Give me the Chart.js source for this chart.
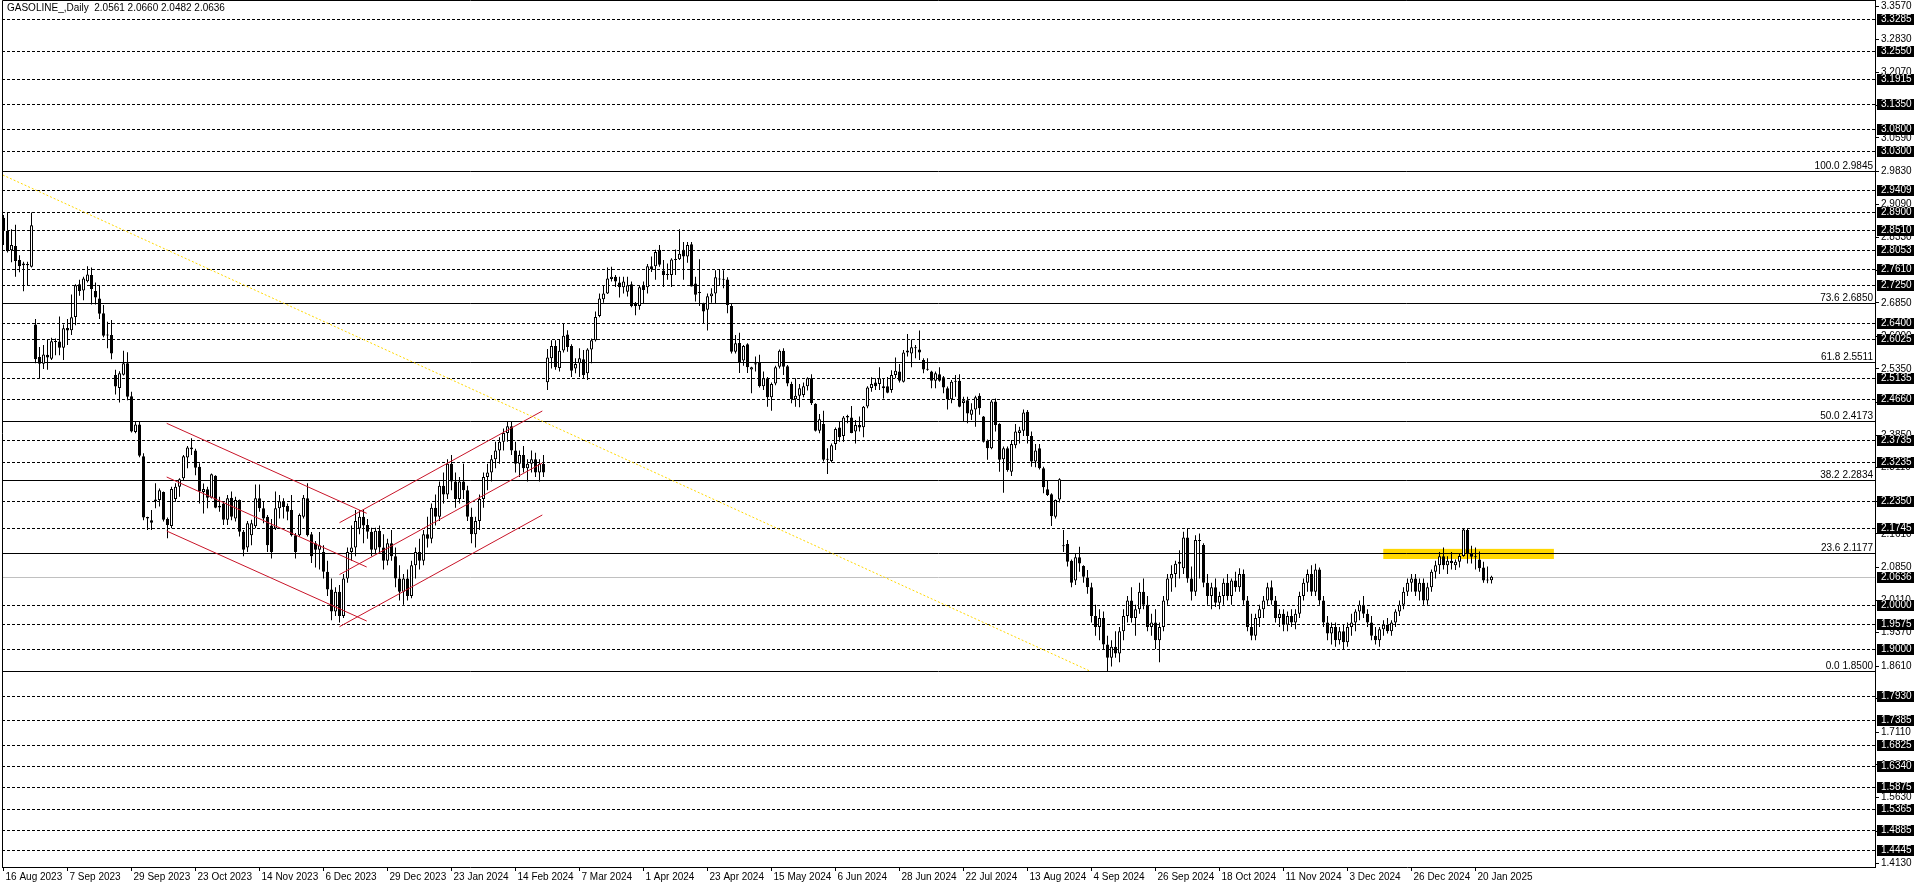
<!DOCTYPE html>
<html>
<head>
<meta charset="utf-8">
<script src="https://cdn.jsdelivr.net/npm/chart.js@4.4.1/dist/chart.umd.min.js"></script>
<style>
  html, body { margin: 0; padding: 0; background: #fff; overflow: hidden; }
</style>
</head>
<body>
<canvas id="chart" width="1916" height="888"></canvas>
<script>
const title = 'GASOLINE_,Daily  2.0561 2.0660 2.0482 2.0636';

const dateLabels = ['16 Aug 2023', '7 Sep 2023', '29 Sep 2023', '23 Oct 2023', '14 Nov 2023', '6 Dec 2023',
  '29 Dec 2023', '23 Jan 2024', '14 Feb 2024', '7 Mar 2024', '1 Apr 2024', '23 Apr 2024', '15 May 2024',
  '6 Jun 2024', '28 Jun 2024', '22 Jul 2024', '13 Aug 2024', '4 Sep 2024', '26 Sep 2024', '18 Oct 2024',
  '11 Nov 2024', '3 Dec 2024', '26 Dec 2024', '20 Jan 2025'];
const dateTickBars = [0, 16, 32, 48, 64, 80, 96, 112, 128, 144, 160, 176, 192, 208, 224, 240, 256, 272,
  288, 304, 320, 336, 352, 368];

// daily bars, oldest first
const open = [
  2.878, 2.848, 2.804, 2.814, 2.782, 2.770, 2.773, 2.767, 2.636, 2.562,
  2.547, 2.567, 2.558, 2.596, 2.597, 2.583, 2.628, 2.623, 2.653, 2.727,
  2.713, 2.734, 2.748, 2.712, 2.695, 2.661, 2.611, 2.612, 2.521, 2.492,
  2.522, 2.548, 2.473, 2.392, 2.409, 2.337, 2.199, 2.192, 2.239, 2.238,
  2.256, 2.195, 2.179, 2.240, 2.268, 2.287, 2.334, 2.353, 2.350, 2.313,
  2.256, 2.262, 2.243, 2.293, 2.225, 2.230, 2.193, 2.243, 2.196, 2.238,
  2.166, 2.130, 2.158, 2.178, 2.242, 2.219, 2.200, 2.180, 2.173, 2.219,
  2.235, 2.224, 2.215, 2.158, 2.158, 2.200, 2.242, 2.160, 2.140, 2.125,
  2.120, 2.075, 2.035, 1.985, 2.030, 1.975, 2.060, 2.120, 2.130, 2.173,
  2.200, 2.181, 2.166, 2.125, 2.168, 2.130, 2.100, 2.140, 2.110, 2.060,
  2.030, 2.060, 2.020, 2.090, 2.120, 2.100, 2.160, 2.150, 2.220, 2.200,
  2.270, 2.250, 2.320, 2.280, 2.240, 2.280, 2.260, 2.200, 2.160, 2.190,
  2.240, 2.290, 2.300, 2.330, 2.350, 2.370, 2.390, 2.405, 2.350, 2.320,
  2.340, 2.310, 2.320, 2.330, 2.300, 2.320, 2.505, 2.559, 2.587, 2.537,
  2.577, 2.613, 2.587, 2.536, 2.548, 2.557, 2.525, 2.579, 2.600, 2.655,
  2.693, 2.706, 2.739, 2.744, 2.731, 2.720, 2.710, 2.727, 2.684, 2.678,
  2.723, 2.720, 2.768, 2.768, 2.805, 2.758, 2.750, 2.748, 2.782, 2.784,
  2.805, 2.790, 2.818, 2.729, 2.707, 2.682, 2.669, 2.700, 2.706, 2.738,
  2.738, 2.738, 2.678, 2.574, 2.594, 2.554, 2.591, 2.534, 2.545, 2.549,
  2.496, 2.514, 2.471, 2.502, 2.540, 2.576, 2.541, 2.501, 2.466, 2.474,
  2.476, 2.496, 2.514, 2.456, 2.395, 2.410, 2.329, 2.326, 2.365, 2.402,
  2.383, 2.425, 2.425, 2.393, 2.408, 2.403, 2.450, 2.492, 2.504, 2.501,
  2.491, 2.496, 2.487, 2.521, 2.529, 2.506, 2.572, 2.570, 2.582, 2.579,
  2.555, 2.534, 2.529, 2.508, 2.523, 2.516, 2.491, 2.466, 2.508, 2.508,
  2.458, 2.464, 2.431, 2.443, 2.474, 2.427, 2.372, 2.355, 2.461, 2.410,
  2.330, 2.355, 2.302, 2.362, 2.390, 2.395, 2.438, 2.383, 2.325, 2.355,
  2.310, 2.262, 2.251, 2.200, 2.239, 2.133, 2.138, 2.100, 2.055, 2.108,
  2.088, 2.062, 2.040, 1.975, 1.950, 1.970, 1.910, 1.880, 1.905, 1.890,
  1.940, 1.975, 2.010, 1.970, 1.990, 2.030, 2.000, 1.950, 1.960, 1.920,
  1.950, 2.010, 2.060, 2.070, 2.098, 2.083, 2.153, 2.060, 2.030, 2.147,
  2.136, 2.050, 2.020, 2.040, 2.005, 2.020, 2.050, 2.020, 2.055, 2.040,
  2.070, 2.010, 1.950, 1.930, 1.970, 1.990, 2.010, 2.040, 2.010, 1.970,
  1.980, 1.955, 1.975, 1.960, 1.980, 2.020, 2.050, 2.070, 2.030, 2.080,
  2.010, 1.960, 1.935, 1.950, 1.920, 1.940, 1.915, 1.950, 1.960, 1.985,
  2.000, 1.980, 1.960, 1.930, 1.920, 1.945, 1.955, 1.940, 1.960, 1.985,
  2.000, 2.030, 2.050, 2.060, 2.030, 2.050, 2.010, 2.040, 2.075, 2.090,
  2.110, 2.090, 2.100, 2.090, 2.098, 2.111, 2.170, 2.117, 2.108, 2.103,
  2.085, 2.055, 2.0561
];
const high = [
  2.884, 2.890, 2.852, 2.862, 2.793, 2.778, 2.778, 2.890, 2.648, 2.585,
  2.589, 2.601, 2.606, 2.604, 2.654, 2.636, 2.648, 2.704, 2.727, 2.737,
  2.744, 2.768, 2.765, 2.731, 2.725, 2.680, 2.642, 2.646, 2.533, 2.530,
  2.576, 2.573, 2.483, 2.415, 2.415, 2.344, 2.200, 2.215, 2.276, 2.264,
  2.257, 2.198, 2.268, 2.276, 2.287, 2.340, 2.360, 2.378, 2.354, 2.321,
  2.275, 2.268, 2.298, 2.294, 2.245, 2.234, 2.249, 2.257, 2.245, 2.239,
  2.170, 2.190, 2.193, 2.273, 2.273, 2.234, 2.204, 2.195, 2.257, 2.249,
  2.242, 2.230, 2.249, 2.163, 2.207, 2.249, 2.276, 2.165, 2.145, 2.165,
  2.135, 2.100, 2.060, 2.040, 2.045, 2.070, 2.130, 2.180, 2.215, 2.215,
  2.215, 2.195, 2.175, 2.175, 2.180, 2.160, 2.150, 2.170, 2.130, 2.090,
  2.070, 2.080, 2.100, 2.130, 2.150, 2.170, 2.200, 2.230, 2.250, 2.280,
  2.300, 2.330, 2.340, 2.300, 2.290, 2.320, 2.270, 2.220, 2.200, 2.250,
  2.300, 2.320, 2.340, 2.370, 2.380, 2.400, 2.415, 2.415, 2.370, 2.350,
  2.360, 2.330, 2.350, 2.345, 2.330, 2.340, 2.580, 2.600, 2.600, 2.602,
  2.637, 2.623, 2.591, 2.559, 2.582, 2.578, 2.582, 2.604, 2.665, 2.706,
  2.723, 2.765, 2.767, 2.748, 2.744, 2.744, 2.744, 2.733, 2.687, 2.723,
  2.733, 2.773, 2.790, 2.805, 2.816, 2.782, 2.774, 2.786, 2.806, 2.852,
  2.823, 2.823, 2.823, 2.744, 2.784, 2.685, 2.706, 2.718, 2.759, 2.761,
  2.759, 2.743, 2.684, 2.612, 2.617, 2.589, 2.593, 2.540, 2.563, 2.567,
  2.529, 2.517, 2.504, 2.542, 2.579, 2.582, 2.544, 2.506, 2.514, 2.501,
  2.504, 2.516, 2.523, 2.457, 2.433, 2.440, 2.355, 2.366, 2.402, 2.415,
  2.428, 2.431, 2.451, 2.419, 2.427, 2.451, 2.496, 2.516, 2.514, 2.539,
  2.514, 2.517, 2.532, 2.561, 2.546, 2.578, 2.614, 2.602, 2.589, 2.622,
  2.559, 2.559, 2.531, 2.529, 2.539, 2.519, 2.495, 2.510, 2.521, 2.523,
  2.472, 2.472, 2.457, 2.474, 2.480, 2.428, 2.375, 2.465, 2.468, 2.412,
  2.359, 2.359, 2.374, 2.410, 2.404, 2.443, 2.442, 2.393, 2.365, 2.365,
  2.313, 2.282, 2.253, 2.239, 2.287, 2.170, 2.147, 2.103, 2.117, 2.132,
  2.090, 2.079, 2.050, 2.000, 1.990, 1.985, 1.930, 1.920, 1.940, 1.950,
  1.990, 2.020, 2.040, 2.000, 2.050, 2.060, 2.020, 1.980, 1.990, 1.960,
  2.020, 2.070, 2.090, 2.100, 2.124, 2.166, 2.174, 2.087, 2.158, 2.162,
  2.140, 2.070, 2.050, 2.060, 2.030, 2.060, 2.070, 2.060, 2.075, 2.083,
  2.080, 2.020, 1.980, 1.980, 2.000, 2.020, 2.050, 2.055, 2.020, 1.990,
  1.990, 1.985, 1.990, 1.990, 2.030, 2.060, 2.080, 2.090, 2.093, 2.085,
  2.020, 1.975, 1.960, 1.960, 1.950, 1.955, 1.960, 1.980, 1.990, 2.010,
  2.020, 1.990, 1.975, 1.950, 1.950, 1.965, 1.970, 1.965, 1.990, 2.010,
  2.040, 2.060, 2.070, 2.070, 2.060, 2.060, 2.050, 2.080, 2.100, 2.120,
  2.130, 2.110, 2.120, 2.103, 2.117, 2.174, 2.174, 2.134, 2.130, 2.121,
  2.098, 2.087, 2.0660
];
const low = [
  2.816, 2.799, 2.777, 2.744, 2.754, 2.711, 2.725, 2.765, 2.548, 2.514,
  2.535, 2.533, 2.555, 2.566, 2.566, 2.555, 2.589, 2.612, 2.634, 2.701,
  2.691, 2.731, 2.681, 2.681, 2.648, 2.607, 2.582, 2.557, 2.477, 2.459,
  2.520, 2.464, 2.391, 2.389, 2.335, 2.192, 2.170, 2.170, 2.219, 2.223,
  2.189, 2.151, 2.174, 2.234, 2.245, 2.283, 2.310, 2.340, 2.294, 2.230,
  2.207, 2.219, 2.241, 2.219, 2.211, 2.181, 2.181, 2.192, 2.189, 2.155,
  2.110, 2.120, 2.135, 2.174, 2.211, 2.185, 2.120, 2.105, 2.170, 2.196,
  2.196, 2.192, 2.155, 2.105, 2.155, 2.196, 2.155, 2.095, 2.085, 2.080,
  2.060, 2.020, 1.965, 1.975, 1.960, 1.970, 2.050, 2.100, 2.110, 2.160,
  2.140, 2.150, 2.110, 2.115, 2.120, 2.080, 2.090, 2.100, 2.040, 2.010,
  2.000, 2.010, 2.015, 2.060, 2.080, 2.090, 2.130, 2.140, 2.180, 2.190,
  2.230, 2.240, 2.260, 2.220, 2.230, 2.240, 2.190, 2.140, 2.130, 2.170,
  2.220, 2.260, 2.280, 2.310, 2.320, 2.350, 2.370, 2.340, 2.300, 2.290,
  2.300, 2.280, 2.300, 2.290, 2.280, 2.290, 2.487, 2.536, 2.533, 2.529,
  2.572, 2.574, 2.517, 2.525, 2.517, 2.514, 2.510, 2.548, 2.597, 2.652,
  2.685, 2.705, 2.733, 2.721, 2.697, 2.706, 2.699, 2.675, 2.657, 2.669,
  2.682, 2.706, 2.755, 2.737, 2.767, 2.721, 2.737, 2.721, 2.748, 2.782,
  2.737, 2.776, 2.722, 2.688, 2.678, 2.638, 2.622, 2.685, 2.684, 2.723,
  2.718, 2.661, 2.570, 2.570, 2.526, 2.542, 2.526, 2.480, 2.529, 2.493,
  2.487, 2.449, 2.440, 2.498, 2.536, 2.521, 2.496, 2.457, 2.449, 2.448,
  2.471, 2.486, 2.453, 2.393, 2.389, 2.325, 2.297, 2.323, 2.351, 2.370,
  2.370, 2.412, 2.389, 2.366, 2.393, 2.380, 2.446, 2.483, 2.487, 2.487,
  2.468, 2.480, 2.481, 2.514, 2.504, 2.504, 2.563, 2.539, 2.559, 2.555,
  2.525, 2.531, 2.491, 2.491, 2.506, 2.480, 2.443, 2.457, 2.472, 2.448,
  2.415, 2.412, 2.419, 2.404, 2.431, 2.368, 2.329, 2.353, 2.393, 2.302,
  2.254, 2.302, 2.292, 2.355, 2.366, 2.383, 2.366, 2.313, 2.312, 2.307,
  2.253, 2.247, 2.179, 2.196, 2.232, 2.120, 2.087, 2.040, 2.045, 2.075,
  2.050, 2.025, 1.960, 1.930, 1.920, 1.900, 1.850, 1.860, 1.880, 1.870,
  1.920, 1.960, 1.960, 1.930, 1.980, 1.990, 1.940, 1.930, 1.900, 1.870,
  1.940, 2.000, 2.030, 2.040, 2.060, 2.070, 2.050, 2.010, 2.020, 2.060,
  2.040, 2.000, 1.990, 1.995, 1.990, 2.000, 2.010, 2.000, 2.030, 2.030,
  2.000, 1.940, 1.920, 1.920, 1.950, 1.970, 2.000, 2.000, 1.960, 1.950,
  1.940, 1.940, 1.950, 1.945, 1.970, 2.010, 2.030, 2.020, 2.020, 2.000,
  1.950, 1.920, 1.910, 1.905, 1.910, 1.900, 1.905, 1.930, 1.940, 1.965,
  1.970, 1.950, 1.920, 1.910, 1.905, 1.930, 1.935, 1.930, 1.950, 1.975,
  1.990, 2.020, 2.030, 2.020, 2.010, 2.000, 2.000, 2.030, 2.060, 2.070,
  2.080, 2.070, 2.080, 2.079, 2.085, 2.109, 2.094, 2.094, 2.080, 2.075,
  2.050, 2.049, 2.0482
];
const close = [
  2.848, 2.802, 2.816, 2.780, 2.768, 2.774, 2.770, 2.861, 2.557, 2.547,
  2.568, 2.561, 2.598, 2.598, 2.583, 2.627, 2.622, 2.652, 2.725, 2.712,
  2.740, 2.749, 2.716, 2.697, 2.660, 2.610, 2.612, 2.570, 2.495, 2.525,
  2.548, 2.472, 2.393, 2.409, 2.338, 2.198, 2.196, 2.186, 2.235, 2.260,
  2.193, 2.181, 2.263, 2.268, 2.285, 2.337, 2.357, 2.357, 2.311, 2.257,
  2.263, 2.243, 2.296, 2.220, 2.221, 2.193, 2.242, 2.200, 2.238, 2.166,
  2.125, 2.185, 2.185, 2.242, 2.219, 2.196, 2.135, 2.120, 2.219, 2.235,
  2.222, 2.211, 2.158, 2.120, 2.204, 2.243, 2.158, 2.110, 2.125, 2.135,
  2.075, 2.035, 1.985, 2.030, 1.975, 2.060, 2.120, 2.130, 2.190, 2.200,
  2.180, 2.166, 2.125, 2.168, 2.130, 2.100, 2.140, 2.110, 2.060, 2.030,
  2.060, 2.020, 2.090, 2.120, 2.100, 2.160, 2.150, 2.220, 2.200, 2.270,
  2.250, 2.320, 2.280, 2.240, 2.280, 2.260, 2.200, 2.160, 2.190, 2.240,
  2.290, 2.300, 2.330, 2.350, 2.370, 2.390, 2.405, 2.350, 2.320, 2.340,
  2.310, 2.320, 2.330, 2.300, 2.320, 2.300, 2.561, 2.587, 2.539, 2.576,
  2.610, 2.585, 2.531, 2.546, 2.559, 2.521, 2.579, 2.600, 2.653, 2.695,
  2.706, 2.740, 2.744, 2.733, 2.720, 2.733, 2.725, 2.678, 2.678, 2.720,
  2.714, 2.768, 2.761, 2.800, 2.771, 2.748, 2.748, 2.783, 2.784, 2.796,
  2.790, 2.816, 2.722, 2.703, 2.708, 2.665, 2.700, 2.706, 2.743, 2.738,
  2.737, 2.680, 2.574, 2.593, 2.549, 2.587, 2.539, 2.539, 2.548, 2.496,
  2.514, 2.471, 2.501, 2.539, 2.576, 2.540, 2.502, 2.466, 2.474, 2.491,
  2.496, 2.514, 2.457, 2.395, 2.421, 2.329, 2.329, 2.362, 2.399, 2.380,
  2.425, 2.428, 2.390, 2.408, 2.402, 2.449, 2.493, 2.501, 2.496, 2.514,
  2.496, 2.481, 2.521, 2.531, 2.508, 2.572, 2.577, 2.584, 2.582, 2.572,
  2.534, 2.533, 2.508, 2.525, 2.508, 2.493, 2.466, 2.506, 2.506, 2.449,
  2.464, 2.434, 2.443, 2.471, 2.446, 2.370, 2.355, 2.461, 2.408, 2.329,
  2.355, 2.306, 2.365, 2.393, 2.396, 2.436, 2.383, 2.325, 2.350, 2.310,
  2.267, 2.249, 2.201, 2.238, 2.285, 2.133, 2.098, 2.050, 2.108, 2.094,
  2.064, 2.040, 1.975, 1.950, 1.970, 1.910, 1.880, 1.905, 1.890, 1.940,
  1.975, 2.010, 1.970, 1.990, 2.030, 2.000, 1.950, 1.960, 1.920, 1.950,
  2.010, 2.060, 2.070, 2.093, 2.093, 2.153, 2.060, 2.030, 2.147, 2.145,
  2.050, 2.020, 2.040, 2.005, 2.020, 2.050, 2.020, 2.055, 2.040, 2.070,
  2.010, 1.950, 1.930, 1.970, 1.990, 2.010, 2.040, 2.010, 1.970, 1.980,
  1.955, 1.975, 1.960, 1.980, 2.020, 2.050, 2.070, 2.030, 2.080, 2.010,
  1.960, 1.935, 1.950, 1.920, 1.940, 1.915, 1.950, 1.960, 1.985, 2.000,
  1.980, 1.960, 1.930, 1.920, 1.945, 1.955, 1.940, 1.960, 1.985, 2.000,
  2.030, 2.050, 2.060, 2.030, 2.050, 2.010, 2.040, 2.075, 2.090, 2.110,
  2.090, 2.100, 2.095, 2.098, 2.111, 2.171, 2.117, 2.109, 2.108, 2.083,
  2.055, 2.056, 2.0636
];

// right price scale
const priceTicks = [3.357, 3.283, 3.207, 3.133, 3.059, 2.983, 2.909, 2.833, 2.759, 2.685, 2.609, 2.535,
  2.459, 2.385, 2.311, 2.235, 2.161, 2.085, 2.011, 1.937, 1.861, 1.787, 1.711, 1.637, 1.563, 1.487, 1.413];
const priceMin = 1.4056;
const priceMax = 3.3716;

// horizontal levels
const hLevels = [3.3285, 3.2550, 3.1915, 3.1350, 3.0800, 3.0300, 2.9409, 2.8900, 2.8510, 2.8053, 2.7610,
  2.7250, 2.6400, 2.6025, 2.5135, 2.4660, 2.3735, 2.3235, 2.2350, 2.1745, 2.0000, 1.9575, 1.9000, 1.7930,
  1.7385, 1.6825, 1.6340, 1.5875, 1.5365, 1.4885, 1.4445];
const fibLevels = [2.9845, 2.6850, 2.5511, 2.4173, 2.2834, 2.1177, 1.8500];
const fibNames = ['100.0', '73.6', '61.8', '50.0', '38.2', '23.6', '0.0'];
const bidPrice = 2.0636;

// drawn objects: [bar, price] end points
const trendLine = [[-0.2, 2.9748], [271.6, 1.8500]];
const channelDown = [
  [[40.8, 2.4117], [90.8, 2.2076]],
  [[40.8, 2.2899], [90.8, 2.0859]],
  [[40.8, 2.1675], [90.8, 1.9634]]
];
const channelUp = [
  [[84.0, 2.1863], [134.7, 2.4396]],
  [[84.0, 2.0687], [134.7, 2.3217]],
  [[84.0, 1.9505], [134.7, 2.2038]]
];
const zoneBars = [344.95, 387.6];
const zonePrices = [2.104, 2.127];

const barIdx = open.map((_, i) => i);

Chart.defaults.font.family = '"Liberation Sans", Arial, sans-serif';
Chart.defaults.font.size = 10;
Chart.defaults.color = '#000';

const toPts = (seg) => seg.map(([x, y]) => ({ x, y }));
const lineSet = (seg, color, dash) => ({
  type: 'line',
  data: toPts(seg),
  borderColor: color,
  borderWidth: 1,
  borderDash: dash,
  pointRadius: 0,
  fill: false,
  order: -1,
});

const objects = {
  id: 'objects',
  beforeDatasetsDraw(chart) {
    const { ctx, chartArea: a, scales: { x, y } } = chart;
    ctx.save();
    ctx.beginPath();
    ctx.rect(a.left, a.top, a.right - a.left, a.bottom - a.top);
    ctx.clip();

    const zx1 = x.getPixelForValue(zoneBars[0]);
    const zx2 = x.getPixelForValue(zoneBars[1]);
    const zy1 = y.getPixelForValue(zonePrices[1]);
    const zy2 = y.getPixelForValue(zonePrices[0]);
    ctx.fillStyle = '#FFD700';
    ctx.fillRect(zx1, zy1, zx2 - zx1, zy2 - zy1);

    ctx.lineWidth = 1;
    ctx.strokeStyle = '#000';
    ctx.setLineDash([3, 2]);
    hLevels.forEach((v) => {
      const py = Math.round(y.getPixelForValue(v)) + 0.5;
      ctx.beginPath();
      ctx.moveTo(a.left, py);
      ctx.lineTo(a.right, py);
      ctx.stroke();
    });
    ctx.setLineDash([]);

    const by = Math.round(y.getPixelForValue(bidPrice)) + 0.5;
    ctx.strokeStyle = '#C0C0C0';
    ctx.beginPath();
    ctx.moveTo(a.left, by);
    ctx.lineTo(a.right, by);
    ctx.stroke();

    ctx.strokeStyle = '#000';
    fibLevels.forEach((v) => {
      const py = Math.round(y.getPixelForValue(v)) + 0.5;
      ctx.beginPath();
      ctx.moveTo(a.left, py);
      ctx.lineTo(a.right, py);
      ctx.stroke();
    });
    ctx.restore();
  },
  afterDraw(chart) {
    const { ctx, chartArea: a, scales: { y } } = chart;
    ctx.save();
    ctx.strokeStyle = '#000';
    ctx.lineWidth = 1;
    ctx.beginPath();
    ctx.moveTo(a.left + 0.5, a.bottom);
    ctx.lineTo(a.left + 0.5, a.top + 0.5);
    ctx.lineTo(a.right, a.top + 0.5);
    ctx.stroke();

    ctx.font = '10px "Liberation Sans", Arial, sans-serif';
    ctx.fillStyle = '#000';
    ctx.textBaseline = 'middle';
    ctx.textAlign = 'left';
    ctx.fillText(title, a.left + 5, 8);

    ctx.textAlign = 'right';
    ctx.textBaseline = 'bottom';
    fibLevels.forEach((v, i) => {
      const py = Math.round(y.getPixelForValue(v));
      ctx.fillText(fibNames[i] + ' ' + v.toFixed(4), a.right - 2, py);
    });

    ctx.textAlign = 'left';
    ctx.textBaseline = 'middle';
    hLevels.concat([bidPrice]).forEach((v) => {
      const py = Math.round(y.getPixelForValue(v));
      ctx.fillStyle = '#000';
      ctx.fillRect(a.right + 2, py - 5, 37, 11);
      ctx.fillStyle = '#fff';
      ctx.fillText(v.toFixed(4), a.right + 6, py + 0.5);
    });
    ctx.restore();
  },
};

new Chart(document.getElementById('chart'), {
  type: 'bar',
  data: {
    datasets: [
      lineSet(trendLine, '#FFD700', [2, 2]),
      ...channelDown.map((s) => lineSet(s, '#C81428', [])),
      ...channelUp.map((s) => lineSet(s, '#C81428', [])),
      {
        label: 'body',
        data: barIdx.map((i) => ({ x: i, y: [Math.min(open[i], close[i]), Math.max(open[i], close[i])] })),
        backgroundColor: (c) => (close[c.dataIndex] >= open[c.dataIndex] ? '#fff' : '#000'),
        borderColor: '#000',
        borderWidth: 1,
        borderSkipped: false,
        minBarLength: 1,
        grouped: false,
        categoryPercentage: 1,
        barPercentage: 0.75,
        order: 1,
      },
      {
        label: 'wick',
        data: barIdx.map((i) => ({ x: i, y: [low[i], high[i]] })),
        backgroundColor: '#000',
        borderWidth: 0,
        grouped: false,
        categoryPercentage: 1,
        barPercentage: 0.25,
        order: 2,
      },
    ],
  },
  options: {
    responsive: false,
    animation: false,
    events: [],
    layout: { padding: { left: 2, top: 0, right: 0, bottom: 0 } },
    plugins: { legend: { display: false }, tooltip: { enabled: false } },
    scales: {
      x: {
        type: 'linear',
        min: -0.375,
        max: 467.875,
        bounds: 'data',
        offset: false,
        grid: { offset: false, drawOnChartArea: false, tickLength: 4, color: '#000' },
        border: { color: '#000' },
        ticks: {
          autoSkip: false,
          maxRotation: 0,
          align: 'start',
          padding: 0,
          labelOffset: 2,
          color: '#000',
          callback: (v, i) => dateLabels[i],
        },
        afterBuildTicks: (s) => { s.ticks = dateTickBars.map((v) => ({ value: v })); },
        afterFit: (s) => { s.height = 21; s.paddingLeft = 0; s.paddingRight = 0; },
      },
      y: {
        type: 'linear',
        position: 'right',
        min: priceMin,
        max: priceMax,
        bounds: 'data',
        grid: { drawOnChartArea: false, tickLength: 4, color: '#000' },
        border: { color: '#000' },
        ticks: { autoSkip: false, padding: 2, color: '#000', callback: (v) => v.toFixed(4) },
        afterBuildTicks: (s) => { s.ticks = priceTicks.map((v) => ({ value: v })); },
        afterFit: (s) => { s.width = 41; s.paddingTop = 0; s.paddingBottom = 0; },
      },
    },
  },
  plugins: [objects],
});
</script>
</body>
</html>
